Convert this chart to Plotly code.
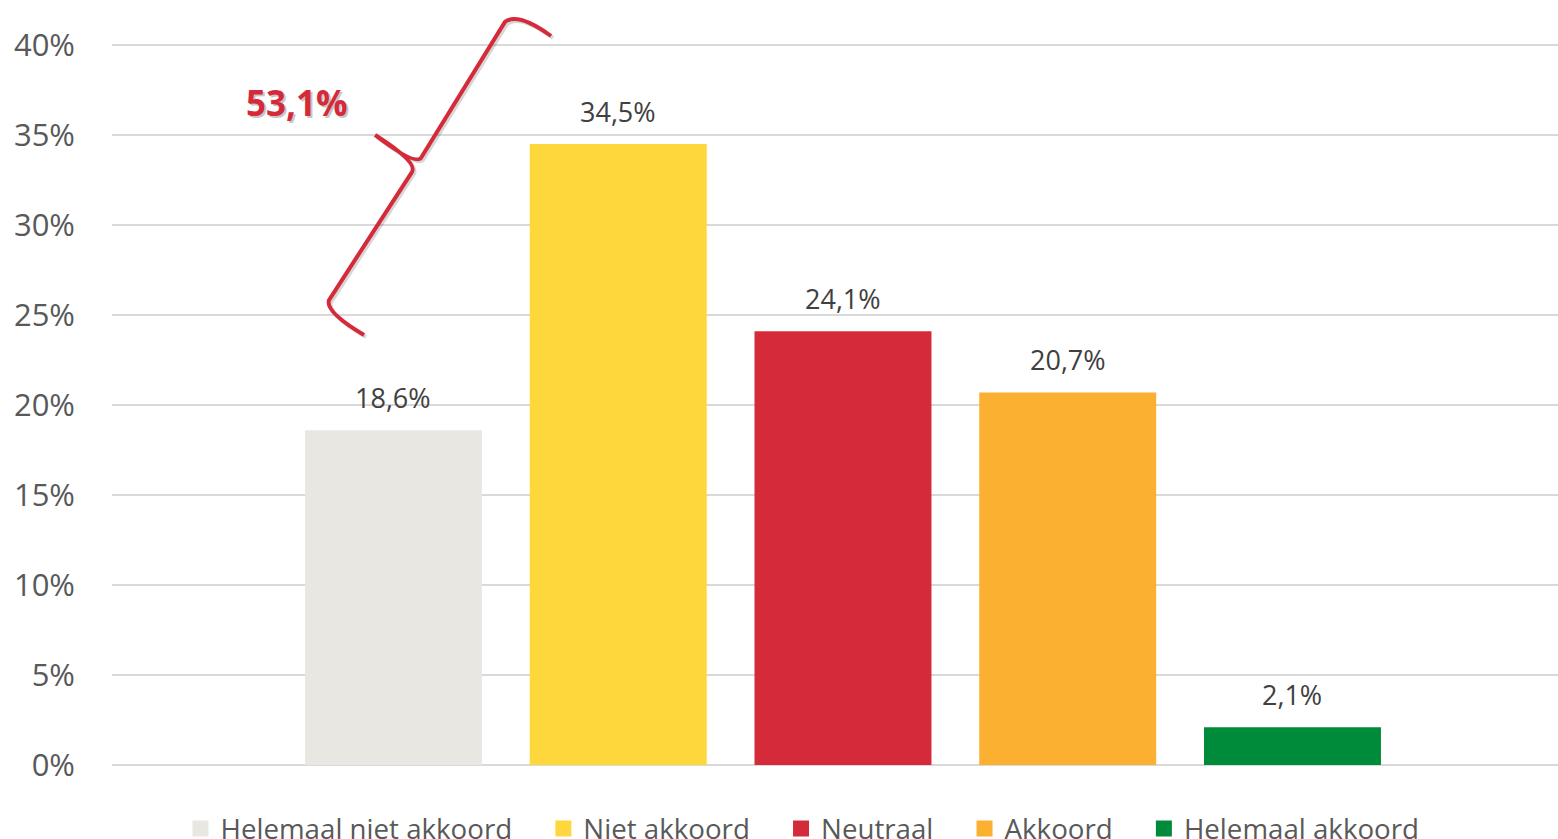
import plotly.graph_objects as go

# data
categories = ["Helemaal niet akkoord", "Niet akkoord", "Neutraal", "Akkoord", "Helemaal akkoord"]
values = [18.6, 34.5, 24.1, 20.7, 2.1]
colors = ["#E8E7E2", "#FED73D", "#D42A3A", "#FBB032", "#008B3A"]
bracket_label = "53,1%"
y_ticks = [0, 5, 10, 15, 20, 25, 30, 35, 40]
y_ticktext = [f"{v}%" for v in y_ticks]

RED = "#D42A3A"
GREY_TXT = "#595959"
FONT = "Open Sans"

# curly brace over the first two bars (x in bar units, y in %)
BRACE = [
    ("M", [(0.701, 40.5)]),
    ("Q", [(0.554, 41.83), (0.496, 41.28)]),
    ("L", [(0.122, 33.72)]),
    ("Q", [(0.091, 33.33), (-0.082, 35.0)]),
    ("M", [(-0.082, 35.0)]),
    ("Q", [(0.109, 33.5), (0.082, 32.94)]),
    ("L", [(-0.287, 25.83)]),
    ("Q", [(-0.305, 25.17), (-0.131, 23.89)]),
]


def brace_path(dx=0.0, dy=0.0):
    parts = []
    for cmd, pts in BRACE:
        parts.append(cmd + " " + " ".join(f"{x + dx:.4f},{y + dy:.3f}" for x, y in pts))
    return " ".join(parts)


fig = go.Figure()
for i, (cat, val, col) in enumerate(zip(categories, values, colors)):
    # bar itself (legend handled by a marker-only proxy for a bigger swatch)
    fig.add_trace(go.Bar(
        x=[i], y=[val], name=cat, width=0.7875, showlegend=False,
        marker=dict(color=col, line=dict(width=0)),
        hoverinfo="skip",
    ))
    fig.add_trace(go.Scatter(
        x=[None], y=[None], mode="markers", name=cat + "\u00a0" * 3 + "\u2009",
        marker=dict(symbol="square", size=16, color=col),
    ))
    fig.add_annotation(
        x=i, y=val, text=f"{val:.1f}%".replace(".", ","),
        showarrow=False, yanchor="bottom", yshift=12,
        font=dict(family=FONT, size=27, color="#404040"),
    )

# shadow + brace
fig.add_shape(type="path", xref="x", yref="y", layer="above",
              path=brace_path(0.009, -0.11),
              line=dict(color="rgba(0,0,0,0.16)", width=4))
fig.add_shape(type="path", xref="x", yref="y", layer="above",
              path=brace_path(), line=dict(color=RED, width=4))

fig.add_annotation(
    x=-0.429, y=36.8, text=f"<b>{bracket_label}</b>", showarrow=False,
    xshift=2, yshift=-2,
    font=dict(family=FONT, size=35, color="rgba(0,0,0,0.22)"),
)
fig.add_annotation(
    x=-0.429, y=36.8, text=f"<b>{bracket_label}</b>", showarrow=False,
    font=dict(family=FONT, size=35, color=RED),
)

fig.update_layout(
    width=1558, height=839,
    barmode="overlay",
    paper_bgcolor="white", plot_bgcolor="white",
    margin=dict(l=112, r=0, t=0, b=74, autoexpand=False),
    font=dict(family=FONT, color=GREY_TXT),
    xaxis=dict(
        range=[-1.2525, 5.1815], showticklabels=False, showgrid=False,
        zeroline=False, showline=False, fixedrange=True,
    ),
    yaxis=dict(
        range=[0, 42.5], tickvals=y_ticks, ticktext=y_ticktext,
        gridcolor="#D9D9D9", gridwidth=2, automargin=False,
        zeroline=True, zerolinecolor="#D9D9D9", zerolinewidth=2,
        showline=False, ticks="", ticklabelstandoff=36,
        tickfont=dict(family=FONT, size=31, color=GREY_TXT),
    ),
    legend=dict(
        orientation="h", x=0.4865, xanchor="center", y=-0.051, yanchor="top",
        font=dict(family=FONT, size=27.7, color=GREY_TXT),
        traceorder="normal", itemwidth=30,
    ),
    showlegend=True,
)

# drop the default page margin so the figure fills the window exactly
fig.write_html("out.html", config={"displayModeBar": False},
               post_script="document.body.style.margin='0';"
               "document.body.style.overflow='hidden';")
